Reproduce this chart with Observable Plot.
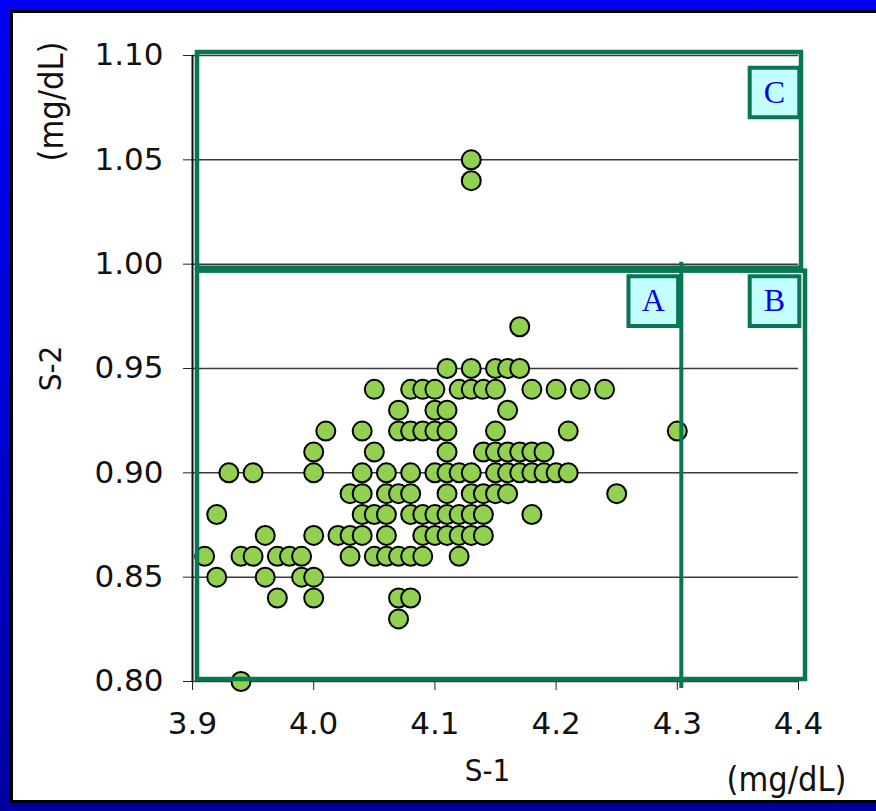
<!DOCTYPE html>
<html><head><meta charset="utf-8">
<script src="https://cdn.jsdelivr.net/npm/d3@7"></script>
<script src="https://cdn.jsdelivr.net/npm/@observablehq/plot@0.6"></script>
<style>
html,body{margin:0;padding:0;width:876px;height:811px;overflow:hidden;background:linear-gradient(to bottom,#0000f8 0%,#0000d0 55%,#0000a0 100%);}
#panel{position:absolute;left:10px;top:10px;width:872px;height:793px;background:#fff;border:3px solid #000;box-sizing:border-box;}
#chart{position:absolute;left:0;top:0;}
</style></head><body><div id="panel"><div id="chart"></div></div>
<script>
// S-2 levels (mg/dL) and the S-1 values (mg/dL) observed at each level
const s2Levels = [0.80, 0.83, 0.84, 0.85, 0.86, 0.87, 0.88, 0.89, 0.90, 0.91, 0.92, 0.93, 0.94, 0.95, 0.97, 1.04, 1.05];
const s1AtLevel = [
  [3.94],
  [4.07],
  [3.97, 4.00, 4.07, 4.08],
  [3.92, 3.96, 3.99, 4.00],
  [3.91, 3.94, 3.95, 3.97, 3.98, 3.99, 4.03, 4.05, 4.06, 4.07, 4.08, 4.09, 4.12],
  [3.96, 4.00, 4.02, 4.03, 4.04, 4.06, 4.09, 4.10, 4.11, 4.12, 4.13, 4.14],
  [3.92, 4.04, 4.05, 4.06, 4.08, 4.09, 4.10, 4.11, 4.12, 4.13, 4.14, 4.18],
  [4.03, 4.04, 4.06, 4.07, 4.08, 4.11, 4.13, 4.14, 4.15, 4.16, 4.25],
  [3.93, 3.95, 4.00, 4.04, 4.06, 4.08, 4.10, 4.11, 4.12, 4.13, 4.15, 4.16, 4.17, 4.18, 4.19, 4.20, 4.21],
  [4.00, 4.05, 4.11, 4.14, 4.15, 4.16, 4.17, 4.18, 4.19],
  [4.01, 4.04, 4.07, 4.08, 4.09, 4.10, 4.11, 4.15, 4.21, 4.30],
  [4.07, 4.10, 4.11, 4.16],
  [4.05, 4.08, 4.09, 4.10, 4.12, 4.13, 4.14, 4.15, 4.18, 4.20, 4.22, 4.24],
  [4.11, 4.13, 4.15, 4.16, 4.17],
  [4.17],
  [4.13],
  [4.13]
];
const xTicks = [3.9, 4.0, 4.1, 4.2, 4.3, 4.4];
const yTicks = [0.80, 0.85, 0.90, 0.95, 1.00, 1.05, 1.10];
// Region boxes (data coordinates)
const regionNames = ["C", "AB"];
const regionX1 = [3.9, 3.9];
const regionX2 = [4.4, 4.4];
const regionY1 = [1.0, 0.8];
const regionY2 = [1.1, 1.0];
const dividerX = [4.3];
// Region labels anchored at each region's top-right corner
const labelNames = ["A", "B", "C"];
const labelX = [4.3, 4.4, 4.4];
const labelY = [1.0, 1.0, 1.1];

const points = [];
s2Levels.forEach((y, i) => s1AtLevel[i].forEach(x => points.push({s1: x, s2: y})));
const labels = labelNames.map((n, i) => ({name: n, x: labelX[i], y: labelY[i]}));
const green = "#087553";
const titleFont = {fontSize: 31, fontFamily: "DejaVu Sans Condensed", textAnchor: "middle", lineAnchor: "middle"};
const unitFont = {...titleFont, fontSize: 34};

const chart = Plot.plot({
  width: 866, height: 787,
  marginLeft: 179, marginTop: 42, marginRight: 81, marginBottom: 119,
  style: {fontFamily: "DejaVu Sans", fontSize: "31px", color: "#111", background: "transparent", overflow: "visible"},
  x: {domain: [3.9, 4.4]},
  y: {domain: [0.8, 1.1]},
  marks: [
    Plot.gridY(yTicks, {stroke: "#3a3a3a", strokeOpacity: 1, strokeWidth: 1.5}),
    Plot.ruleX([3.9], {stroke: "#111", strokeWidth: 2}),
    Plot.axisY({ticks: yTicks, tickFormat: d3.format(".2f"), tickSize: 9, tickPadding: 20, label: null, stroke: "#222", fontSize: 31}),
    Plot.axisX({ticks: xTicks, tickFormat: d3.format(".1f"), tickSize: 9, tickPadding: 21, label: null, stroke: "#222", fontSize: 31}),
    Plot.dot(points, {x: "s1", y: "s2", r: 9.5, fill: "#92d050", stroke: "#000", strokeWidth: 2}),
    Plot.rect([0], {x1: () => regionX1[0], x2: () => regionX2[0], y1: () => regionY1[0], y2: () => regionY2[0], fill: "none", stroke: green, strokeWidth: 4.5, insetLeft: 5, insetRight: -3, insetTop: -3, insetBottom: -4}),
    Plot.rect([1], {x1: () => regionX1[1], x2: () => regionX2[1], y1: () => regionY1[1], y2: () => regionY2[1], fill: "none", stroke: green, strokeWidth: 4.5, insetLeft: 5, insetRight: -7, insetTop: 7, insetBottom: 2}),
    Plot.ruleX(dividerX, {y1: 0.8, y2: 1.0, stroke: green, strokeWidth: 4, dx: 4, insetTop: 7, insetBottom: 2}),
    Plot.dot(labels, {x: "x", y: "y", symbol: "square", r: 28, fill: "#c4ffff", stroke: green, strokeWidth: 4, dx: -24, dy: 37}),
    Plot.text(labels, {x: "x", y: "y", text: "name", dx: -24, dy: 37, fill: "#0000ee", fontFamily: "Liberation Serif", fontSize: 32}),
    Plot.text(["(mg/dL)"], {text: d => d, frameAnchor: "top-left", dx: -140, dy: 46, rotate: -90, ...unitFont}),
    Plot.text(["S-2"], {text: d => d, frameAnchor: "left", dx: -141, dy: 0, rotate: -90, ...titleFont}),
    Plot.text(["S-1"], {text: d => d, frameAnchor: "bottom", dx: -8, dy: 90, ...titleFont}),
    Plot.text(["(mg/dL)"], {text: d => d, frameAnchor: "bottom-right", dx: -12, dy: 99, ...unitFont})
  ]
});
document.getElementById("chart").appendChild(chart);
</script></body></html>
